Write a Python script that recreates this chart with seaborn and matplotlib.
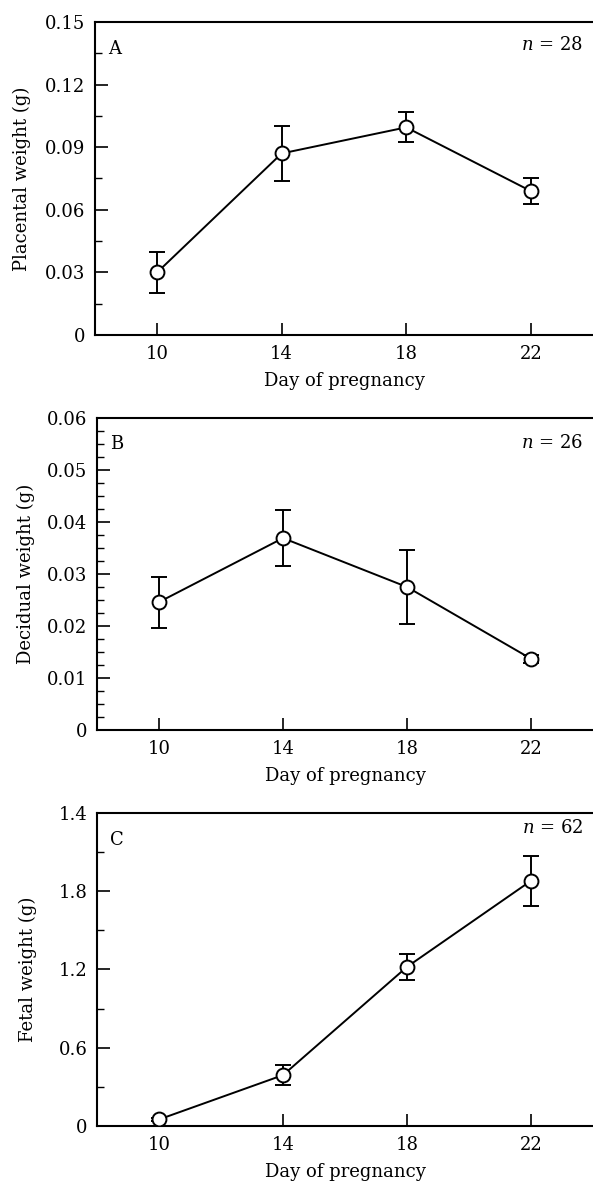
import numpy as np
import pandas as pd
import matplotlib
matplotlib.use("Agg")
import matplotlib.pyplot as plt
from matplotlib.ticker import MultipleLocator, FixedLocator
import seaborn as sns

# values
days = [10, 14, 18, 22]
placental_mean = [0.030, 0.087, 0.0995, 0.069]
placental_err = [0.010, 0.013, 0.0072, 0.006]
decidual_mean = [0.0246, 0.0369, 0.0275, 0.0137]
decidual_err = [0.0049, 0.0054, 0.0071, 0.0008]
fetal_mean = [0.05, 0.39, 1.22, 1.88]
fetal_err = [0.01, 0.075, 0.10, 0.19]

placental_ticks = [0, 0.03, 0.06, 0.09, 0.12, 0.15]
placental_labels = ["0", "0.03", "0.06", "0.09", "0.12", "0.15"]
decidual_ticks = [0, 0.01, 0.02, 0.03, 0.04, 0.05, 0.06]
decidual_labels = ["0", "0.01", "0.02", "0.03", "0.04", "0.05", "0.06"]
fetal_ticks = [0, 0.6, 1.2, 1.8, 2.4]
fetal_labels = ["0", "0.6", "1.2", "1.8", "1.4"]

# letter, n label, y label, means, errors, ticks, tick labels, minor step,
# axes rect, y label x position, n label y position
panels = [
    ("A", "n = 28", "Placental weight (g)", placental_mean, placental_err,
     placental_ticks, placental_labels, 0.015,
     [0.160, 0.7166, 0.84, 0.2648], -0.128, 0.927),
    ("B", "n = 26", "Decidual weight (g)", decidual_mean, decidual_err,
     decidual_ticks, decidual_labels, 0.0025,
     [0.1636, 0.3824, 0.8364, 0.2640], -0.126, 0.92),
    ("C", "n = 62", "Fetal weight (g)", fetal_mean, fetal_err,
     fetal_ticks, fetal_labels, 0.3,
     [0.1636, 0.0474, 0.8364, 0.2648], -0.122, 0.952),
]

sns.set_style("ticks")
plt.rcParams['font.family'] = ['DejaVu Serif']
plt.rcParams['mathtext.fontset'] = 'dejavuserif'
plt.rcParams['text.color'] = 'black'
plt.rcParams['axes.labelcolor'] = 'black'
plt.rcParams['xtick.color'] = 'black'
plt.rcParams['ytick.color'] = 'black'

fig = plt.figure(figsize=(5.93, 11.82), dpi=100)

for letter, ntext, ylabel, mean, err, ticks, labels, minor, rect, ylx, ny in panels:
    ax = fig.add_axes(rect)
    df = pd.DataFrame({"day": days, "weight": mean})
    ax.errorbar(days, mean, yerr=err, fmt="none", ecolor="black",
                elinewidth=1.4, capsize=6, capthick=1.4, zorder=2)
    sns.lineplot(data=df, x="day", y="weight", ax=ax, color="black",
                 linewidth=1.4, marker="o", markersize=10,
                 markerfacecolor="white", markeredgecolor="black",
                 markeredgewidth=1.4, zorder=3)
    ax.set_xlim(8, 24)
    ax.set_ylim(ticks[0], ticks[-1])
    ax.set_xticks(days)
    ax.set_xticklabels([str(d) for d in days])
    ax.yaxis.set_major_locator(FixedLocator(ticks))
    ax.set_yticklabels(labels)
    ax.yaxis.set_minor_locator(MultipleLocator(minor))
    ax.tick_params(axis="both", which="major", direction="in", length=9,
                   width=1.2, labelsize=13, pad=7)
    ax.tick_params(axis="y", which="minor", direction="in", length=5,
                   width=1.0)
    for side in ["left", "bottom", "top"]:
        ax.spines[side].set_linewidth(1.5)
        ax.spines[side].set_color("black")
    ax.spines["right"].set_visible(False)
    ax.set_xlabel("Day of pregnancy", fontsize=13, labelpad=7)
    ax.set_ylabel(ylabel, fontsize=13)
    ax.yaxis.set_label_coords(ylx, 0.5)
    ax.text(0.027, 0.915, letter, transform=ax.transAxes, fontsize=13,
            ha="left", va="center")
    ax.text(0.98, ny, "$n$" + ntext[1:], transform=ax.transAxes,
            fontsize=13, ha="right", va="center")

fig.savefig("out.png", dpi=100)
